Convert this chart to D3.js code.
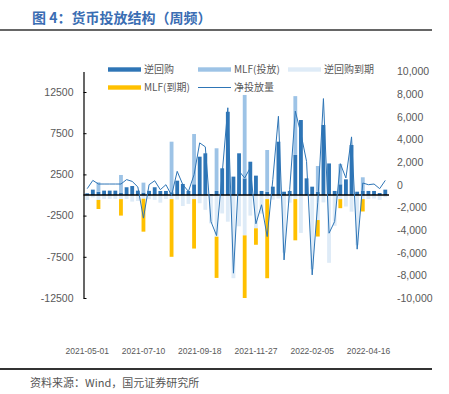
<!DOCTYPE html>
<html>
<head>
<meta charset="utf-8">
<script src="https://cdn.jsdelivr.net/npm/d3@7"></script>
<style>
  body { margin: 0; background: #fff; }
  text { font-family: "Liberation Sans", Arial, sans-serif; }
  .cn { font-family: "Noto Sans CJK SC", sans-serif; }
</style>
</head>
<body>
<svg class="chart" width="449" height="394"></svg>
<script>
// weekly dates
var weeks = ['2021-05-01', '2021-05-08', '2021-05-15', '2021-05-22', '2021-05-29', '2021-06-05', '2021-06-12',
    '2021-06-19', '2021-06-26', '2021-07-03', '2021-07-10', '2021-07-17', '2021-07-24', '2021-07-31',
    '2021-08-07', '2021-08-14', '2021-08-21', '2021-08-28', '2021-09-04', '2021-09-11', '2021-09-18',
    '2021-09-25', '2021-10-02', '2021-10-09', '2021-10-16', '2021-10-23', '2021-10-30', '2021-11-06',
    '2021-11-13', '2021-11-20', '2021-11-27', '2021-12-04', '2021-12-11', '2021-12-18', '2021-12-25',
    '2022-01-01', '2022-01-08', '2022-01-15', '2022-01-22', '2022-01-29', '2022-02-05', '2022-02-12',
    '2022-02-19', '2022-02-26', '2022-03-05', '2022-03-12', '2022-03-19', '2022-03-26', '2022-04-02',
    '2022-04-09', '2022-04-16', '2022-04-23', '2022-04-30', '2022-05-07'];

// 亿元
var reverseRepo = [200, 650, 400, 530, 530, 530, 240, 940, 1090, 530, 300, 500, 940, 490, 490, 330, 1740, 1340,
    490, 1300, 4650, 5060, 100, 490, 3240, 10100, 2230, 5060, 2020, 4040, 2350, 490, 400, 1010, 6470, 400, 490,
    4860, 9100, 2020, 1010, 400, 8500, 3830, 490, 1300, 1900, 6070, 400, 490, 490, 490, 240, 650];
var mlfIn = [0, 0, 1140, 0, 0, 0, 2190, 0, 0, 0, 1200, 0, 0, 0, 0, 6140, 0, 0, 0, 6100, 0, 0, 0, 5180, 0, 0, 0,
    0, 10120, 0, 0, 0, 5060, 0, 0, 0, 0, 7140, 0, 0, 0, 3120, 0, 0, 0, 2460, 0, 0, 0, 1660, 0, 0, 0, 0];
var repoDue = [-600, -300, -600, -470, -470, -470, -500, -490, -800, -730, -450, -500, -590, -930, -490, -500,
    -560, -1340, -1080, -500, -1000, -1800, -3440, -5060, -2240, -3240, -10100, -3800, -4900, -2500, -4040,
    -2260, -500, -570, -430, -7000, -930, -500, -4600, -100, -9000, -3040, -900, -8230, -3740, -500, -1400,
    -2020, -6100, -500, -490, -430, -590, -270];
var mlfDue = [0, 0, -1100, 0, 0, 0, -2000, 0, 0, 0, -4000, 0, 0, 0, 0, -7000, 0, 0, 0, -6000, 0, 0, 0, -5000,
    0, 0, 0, 0, -7800, 0, -2000, 0, -9600, 0, 0, 0, 0, -5000, 0, 0, 0, -2000, 0, 0, 0, -1100, 0, 0, 0, -1500,
    0, 0, 0, 0];
var netInjection = [-350, 380, 60, 60, 60, 60, 60, 450, 290, -200, -2950, 0, 350, -440, 0, -950, 1180, 0, -590,
    885, 3690, 3340, -3250, -4490, 1000, 6790, -7810, 1200, 590, 1500, -3450, -1770, -4580, 440, 6040, -6640,
    -440, 6490, 4500, 2060, -7960, -1540, 7600, -4280, -3250, 1860, 590, 4220, -5690, 150, 0, 60, -350, 380];

var leftTicks = [12500, 7500, 2500, -2500, -7500, -12500];
var rightTicks = [10000, 8000, 6000, 4000, 2000, 0, -2000, -4000, -6000, -8000, -10000];
var dateTicks = ['2021-05-01', '2021-07-10', '2021-09-18', '2021-11-27', '2022-02-05', '2022-04-16'];

var seriesNames = ['逆回购', 'MLF(投放)', '逆回购到期', 'MLF(到期)'];
var colors = ['#2e75b6', '#9dc3e6', '#deebf7', '#ffc000'];
var lineColor = '#2e75b6';

var plot = { left: 83.5, right: 389, top: 71.4, bottom: 298 };

var svg = d3.select('.chart');

// title
svg.append('text')
    .attr('class', 'cn')
    .attr('x', 32).attr('y', 23)
    .attr('font-size', 14).attr('font-weight', 'bold')
    .attr('fill', '#3a6db3')
    .text('图 4：货币投放结构（周频）');
svg.append('line')
    .attr('x1', 0).attr('x2', 432).attr('y1', 30).attr('y2', 30)
    .attr('stroke', '#333').attr('stroke-width', 1.5);

var x = d3.scaleBand().domain(weeks).range([plot.left, plot.right]).padding(0.32);
var yL = d3.scaleLinear().domain([-12500, 15000]).range([plot.bottom, plot.top]);
var yR = d3.scaleLinear().domain([-10000, 10000]).range([plot.bottom, plot.top]);

// plain hyphen for minus, like the source chart
var fmtComma = d3.formatLocale({ decimal: '.', thousands: ',', grouping: [3], currency: ['', ''], minus: '-' }).format(',');

var table = weeks.map(function (w, i) {
    return { week: w, a: reverseRepo[i], b: mlfIn[i], c: repoDue[i], d: mlfDue[i] };
});
var stacked = d3.stack().keys(['a', 'b', 'c', 'd']).offset(d3.stackOffsetDiverging)(table);

svg.append('clipPath').attr('id', 'clip')
    .append('rect')
    .attr('x', plot.left).attr('y', plot.top)
    .attr('width', plot.right - plot.left).attr('height', plot.bottom - plot.top);

var bars = svg.append('g').attr('clip-path', 'url(#clip)');
bars.selectAll('g').data(stacked)
    .enter().append('g')
    .attr('fill', function (d, i) { return colors[i]; })
    .selectAll('rect').data(function (d) { return d; })
    .enter().append('rect')
    .attr('x', function (d) { return x(d.data.week); })
    .attr('width', x.bandwidth())
    .attr('y', function (d) { return yL(Math.max(d[0], d[1])); })
    .attr('height', function (d) { return Math.abs(yL(d[0]) - yL(d[1])); });

// zero line
svg.append('line')
    .attr('x1', plot.left).attr('x2', plot.right)
    .attr('y1', yL(0)).attr('y2', yL(0))
    .attr('stroke', '#000').attr('stroke-width', 1.5);

// net injection line
var line = d3.line()
    .x(function (d, i) { return x(weeks[i]) + x.bandwidth() / 2; })
    .y(function (d) { return yR(d); });
svg.append('path')
    .datum(netInjection)
    .attr('d', line)
    .attr('fill', 'none')
    .attr('stroke', lineColor)
    .attr('stroke-width', 1);

// left axis
var leftAxis = svg.append('g')
    .attr('transform', 'translate(' + plot.left + ',0)')
    .call(d3.axisLeft(yL).tickValues(leftTicks).tickSize(-3).tickPadding(10).tickSizeOuter(0)
        .tickFormat(function (d) { return String(d); }));
leftAxis.select('.domain').attr('stroke', '#000').attr('stroke-width', 1.2);
leftAxis.selectAll('.tick line').attr('stroke', '#000');
leftAxis.selectAll('text').attr('fill', '#595959').attr('font-size', 10.5)
    .style('font-family', '"Liberation Sans", Arial, sans-serif');

// right axis
var rightAxis = svg.append('g')
    .attr('transform', 'translate(' + plot.right + ',0)')
    .call(d3.axisRight(yR).tickValues(rightTicks).tickSize(0).tickPadding(8).tickFormat(fmtComma));
rightAxis.select('.domain').remove();
rightAxis.selectAll('text').attr('fill', '#595959').attr('font-size', 10.5)
    .style('font-family', '"Liberation Sans", Arial, sans-serif');

// date axis
var bottomAxis = svg.append('g')
    .attr('transform', 'translate(0,346)')
    .call(d3.axisBottom(x).tickValues(dateTicks).tickSize(0).tickPadding(2));
bottomAxis.select('.domain').remove();
bottomAxis.selectAll('text').attr('fill', '#595959').attr('font-size', 8.5)
    .style('font-family', '"Liberation Sans", Arial, sans-serif');

// legend
var legendItems = [
    { name: seriesNames[0], color: colors[0], x: 108, y: 69.5, type: 'bar' },
    { name: seriesNames[1], color: colors[1], x: 198, y: 69.5, type: 'bar' },
    { name: seriesNames[2], color: colors[2], x: 288, y: 69.5, type: 'bar' },
    { name: seriesNames[3], color: colors[3], x: 108, y: 87.5, type: 'bar' },
    { name: '净投放量', color: lineColor, x: 198, y: 87.5, type: 'line' }
];
var legend = svg.selectAll('.legend').data(legendItems)
    .enter().append('g')
    .attr('class', 'legend')
    .attr('transform', function (d) { return 'translate(' + d.x + ',' + d.y + ')'; });
legend.append('rect')
    .attr('x', 0).attr('width', 33)
    .attr('y', function (d) { return d.type === 'bar' ? -2.2 : -0.5; })
    .attr('height', function (d) { return d.type === 'bar' ? 4.4 : 1; })
    .attr('fill', function (d) { return d.color; });
legend.append('text')
    .attr('class', 'cn')
    .attr('x', 36).attr('dy', '0.35em')
    .attr('font-size', 10)
    .attr('fill', '#595959')
    .text(function (d) { return d.name; });

// footer
svg.append('line')
    .attr('x1', 0).attr('x2', 432).attr('y1', 369).attr('y2', 369)
    .attr('stroke', '#333').attr('stroke-width', 2);
svg.append('text')
    .attr('class', 'cn')
    .attr('x', 30).attr('y', 387)
    .attr('font-size', 11).attr('fill', '#555')
    .text('资料来源：Wind，国元证券研究所');
</script>
</body>
</html>
